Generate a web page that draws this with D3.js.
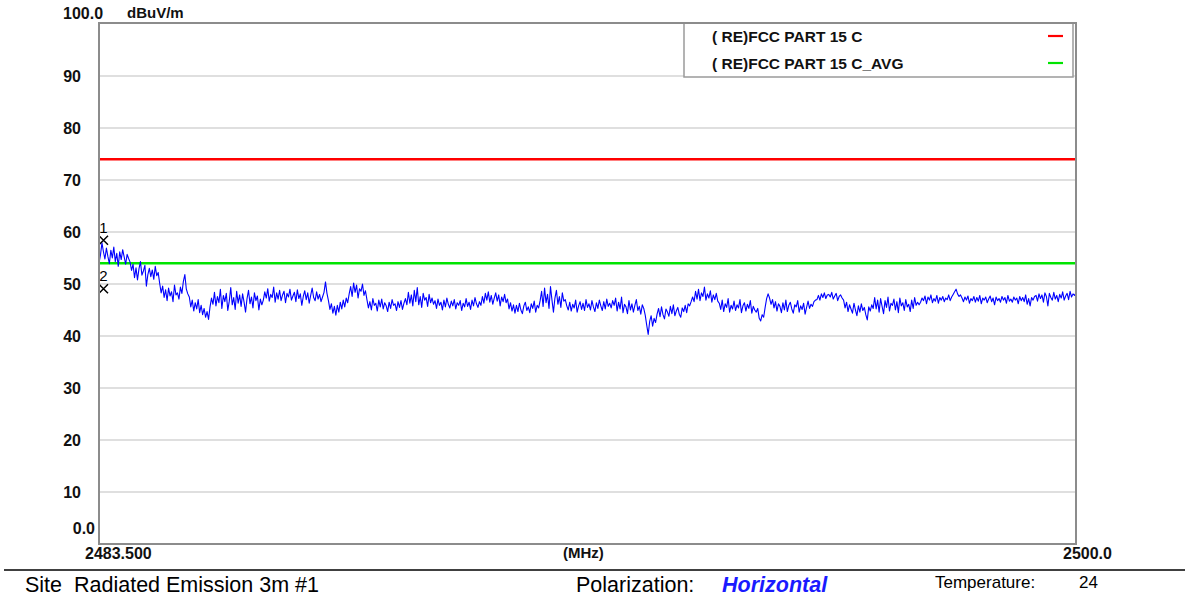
<!DOCTYPE html>
<html>
<head>
<meta charset="utf-8">
<script src="https://cdn.jsdelivr.net/npm/d3@7"></script>
<style>
  html, body { margin: 0; padding: 0; background: #fff; }
  svg { display: block; }
  .bold { font-family: "Liberation Sans", Arial, sans-serif; font-weight: bold; }
  .reg { font-family: "Liberation Sans", Arial, sans-serif; }
</style>
</head>
<body>
<svg id="chart" width="1185" height="597"></svg>
<script>
// Sweep range (MHz) and level range (dBuV/m)
const freqRange = [2483.5, 2500.0];
const levelRange = [0, 100];
const yTicks = [10, 20, 30, 40, 50, 60, 70, 80, 90];

// Limit lines
const limits = [
  { name: "( RE)FCC PART 15 C", level: 74, color: "#ff0000" },
  { name: "( RE)FCC PART 15 C_AVG", level: 54, color: "#00e400" }
];

// Measured trace, equally spaced points across the sweep (dBuV/m)
const traceLevels = [
  54.0, 55.6, 57.9, 56.2, 54.8, 56.9, 55.3, 53.9, 56.5, 55.0, 57.1, 54.3, 55.9, 53.4, 56.2, 54.7, 56.6, 55.2, 53.8, 55.7, 54.9,
  54.2, 52.6, 53.8, 51.2, 53.1, 50.8, 52.9, 54.3, 51.7, 52.5, 53.6, 49.6, 51.8, 53.0, 51.4, 52.7, 50.9, 53.4, 51.6, 52.2,
  50.1, 48.3, 49.6, 47.4, 48.9, 46.8, 49.2, 47.7, 48.5, 46.6, 49.8, 47.9, 48.3, 47.1, 49.4, 48.2, 50.5, 51.8, 49.0, 48.1,
  47.5, 45.6, 46.9, 44.8, 46.4, 45.2, 47.0, 44.5, 45.9, 44.1, 45.3, 43.6, 44.7, 43.2,
  45.6, 47.3, 46.1, 48.4, 45.8, 47.6, 46.4, 49.0, 45.3, 47.8, 46.6, 48.2, 44.9, 46.7, 49.3, 46.0, 47.4, 45.1,
  48.6, 46.3, 47.9, 45.7, 48.1, 46.5, 44.6, 47.2, 48.8, 46.2, 47.5, 45.4, 48.3, 46.8, 47.7, 45.0, 47.1, 46.0,
  46.9, 48.5, 47.3, 49.1, 46.7, 48.0, 47.4, 49.4, 46.5, 48.3, 47.1, 48.8, 46.8, 47.9, 48.6, 46.4, 48.2, 47.5, 49.0, 46.9, 47.7, 48.4,
  46.6, 48.9, 47.2, 48.1, 45.9, 47.6, 48.7, 47.0, 48.3, 46.3, 47.8, 49.2, 47.4, 46.8, 48.5, 47.1, 48.0, 46.6, 47.5, 48.4, 50.4, 48.2,
  46.8, 45.1, 46.2, 44.4, 45.7, 44.0, 45.9, 44.6, 46.5, 45.2, 46.9, 45.6, 47.3, 46.4,
  48.1, 49.5, 47.6, 50.2, 48.4, 49.8, 47.3, 49.1, 48.6, 50.0, 47.8, 48.7,
  47.0, 45.4, 46.6, 45.0, 47.2, 45.9, 46.3, 44.8, 46.9, 45.6, 47.1, 45.2, 46.4, 45.8,
  44.7, 46.5, 45.3, 47.0, 45.9, 46.2, 44.9, 46.6, 45.5, 46.8, 45.1, 46.3, 47.2, 46.0,
  48.4, 46.3, 47.9, 45.8, 48.8, 46.6, 49.3, 46.0, 47.6, 45.5, 48.2, 46.9, 47.4, 45.7, 48.0, 46.4, 47.3, 46.1,
  46.8, 45.3, 47.1, 45.9, 46.5, 45.0, 46.9, 45.6, 47.3, 46.1, 45.4, 46.7, 45.8, 47.0, 45.2, 46.4,
  45.9, 46.8, 44.9, 46.3, 45.6, 47.2, 45.7, 46.5, 45.1, 46.9, 45.8, 47.4, 46.2, 45.5, 46.6, 45.9,
  47.6, 46.3, 48.2, 46.9, 48.5, 46.5, 47.8, 46.1, 47.3, 48.3, 46.7, 47.9, 45.8, 47.5, 46.6, 48.0, 46.4, 47.1,
  45.2, 46.4, 44.8, 46.0, 44.4, 45.9, 44.7, 46.3, 45.0, 44.3, 45.8, 46.5, 44.9, 45.6, 44.5, 46.2, 45.3, 46.7, 44.6, 45.9, 45.4, 46.8,
  48.6, 45.7, 49.2, 46.4, 48.0, 45.3, 49.5, 46.9, 44.6, 47.3, 48.8, 46.1, 47.6, 45.5, 48.3, 46.7, 47.0, 45.8,
  45.0, 46.5, 44.8, 46.1, 45.4, 46.9, 44.6, 45.8, 46.6, 45.1, 46.3, 44.9, 47.0, 45.5, 46.2, 45.0,
  46.8, 45.6, 44.7, 46.4, 45.3, 46.9, 45.8, 44.9, 46.6, 45.2, 47.1, 45.7, 46.3, 45.4, 46.8, 45.9,
  47.3, 44.8, 46.5, 45.2, 47.5, 44.5, 46.1, 45.6, 44.3, 46.8, 45.0, 46.2, 44.6, 45.9, 47.0, 44.9, 45.7, 44.2, 46.0, 45.3,
  44.0, 42.1, 40.3, 42.8, 43.9, 41.9, 43.4, 42.6, 44.2,
  45.3, 43.7, 45.6, 44.1, 43.3, 45.2, 44.6, 43.8, 45.7, 44.3, 46.0, 43.9, 44.8, 45.5, 44.2, 43.6, 45.4, 44.7, 45.9, 44.5, 46.2, 45.8, 46.6,
  47.5, 46.6, 48.6, 47.1, 49.0, 46.8, 48.3, 47.6, 49.4, 46.9, 48.1, 47.3, 48.7, 46.5, 47.9, 47.0, 48.2, 46.7,
  46.3, 45.1, 46.9, 44.7, 46.2, 45.5, 47.2, 44.6, 45.9, 45.2, 46.7, 44.9, 46.0, 45.4,
  47.0, 44.5, 45.8, 46.4, 44.8, 46.1, 45.3, 46.8, 44.4, 45.7, 45.0, 44.6, 45.3,
  43.4, 42.9, 44.1, 43.6, 45.5, 47.2, 48.1,
  47.3, 46.1, 47.0, 45.4, 46.6, 44.8, 46.2, 45.7, 44.5, 46.4, 45.0, 46.9, 44.7, 45.9, 46.5, 45.2,
  44.4, 46.0, 45.6, 46.8, 44.6, 45.8, 45.1, 46.3, 44.2, 45.5, 46.7, 45.3, 46.1, 45.7, 46.6, 46.9,
  47.0, 47.8, 46.9, 48.1, 47.4, 48.3, 47.2, 47.9, 48.0, 47.5, 48.4, 47.1, 47.7, 48.2, 46.8, 47.6, 47.9, 47.3,
  46.9, 45.4, 46.5, 44.7, 46.0, 45.2, 44.4, 46.3, 45.0, 43.9, 45.8, 44.6, 46.2, 44.9, 45.5, 44.1, 43.1, 45.6, 44.8, 46.0, 45.3,
  47.4, 45.2, 46.9, 44.6, 47.2, 45.7, 44.3, 46.8, 45.5, 47.5, 44.8, 46.3, 45.9, 47.1, 45.0, 46.6,
  44.5, 47.3, 45.8, 46.4, 44.9, 47.0, 45.6, 46.1, 44.7, 46.9, 45.3, 47.4, 45.9, 46.5, 46.0,
  46.5, 47.3, 46.8, 47.7, 46.2, 47.5, 46.9, 47.9, 46.4, 47.2, 46.7, 47.8, 46.3, 47.4, 46.9, 47.6, 46.6, 47.3, 47.0, 47.9, 46.8, 47.5, 48.0,
  48.5, 49.0, 48.1, 47.6, 47.9,
  47.3, 46.6, 47.5, 46.9, 47.7, 46.3, 47.2, 46.8, 47.6, 46.5, 47.4, 46.7, 47.8, 46.2, 47.3, 46.9, 47.5, 46.4, 47.1, 47.7, 46.6, 47.3, 46.0, 47.5, 46.8,
  47.2, 46.5, 47.6, 46.9, 47.4, 46.3, 47.8, 46.7, 47.1, 46.5, 47.5, 46.9, 47.3, 46.2, 47.6, 46.8, 47.4, 46.6, 47.9, 46.1, 47.2, 45.8, 47.4, 46.9, 47.6,
  47.8, 46.7, 48.1, 47.2, 47.9, 46.5, 48.3, 47.6, 45.8, 48.2, 47.4, 46.9, 48.4, 47.1,
  47.8, 46.6, 48.0, 47.3, 48.5, 46.9, 47.7, 48.2, 47.0, 48.6, 47.5, 48.1, 47.8, 48.3
];

// Peak markers
const markers = [
  { id: "1", freq: 2483.576, level: 58.4 },
  { id: "2", freq: 2483.576, level: 49.1 }
];

// Footer information
const siteText = "Site  Radiated Emission 3m #1";
const polarization = "Horizontal";
const temperature = "24";

const svg = d3.select("#chart");
const plot = { left: 99, right: 1076, top: 23, bottom: 544 };

const x = d3.scaleLinear().domain(freqRange).range([plot.left, plot.right]);
const y = d3.scaleLinear().domain(levelRange).range([plot.bottom, plot.top + 1]);
const idx = d3.scaleLinear().domain([0, traceLevels.length - 1]).range(freqRange);

svg.append("rect").attr("width", 1185).attr("height", 597).attr("fill", "#fff");

// Grid lines
svg.append("g")
  .selectAll("line")
  .data(yTicks)
  .join("line")
  .attr("x1", plot.left).attr("x2", plot.right)
  .attr("y1", d => y(d)).attr("y2", d => y(d))
  .attr("stroke", "#d4d4d4")
  .attr("stroke-width", 1.6);

// Y tick labels
svg.append("g")
  .selectAll("text")
  .data(yTicks)
  .join("text")
  .attr("class", "bold")
  .attr("x", 81)
  .attr("y", d => y(d))
  .attr("dy", "0.36em")
  .attr("text-anchor", "end")
  .attr("font-size", 16)
  .attr("fill", "#111")
  .text(d => d);

svg.append("text").attr("class", "bold")
  .attr("x", 95).attr("y", 528).attr("dy", "0.36em")
  .attr("text-anchor", "end").attr("font-size", 16).attr("fill", "#111")
  .text(levelRange[0].toFixed(1));

svg.append("text").attr("class", "bold")
  .attr("x", 63).attr("y", 13).attr("dy", "0.36em")
  .attr("font-size", 16).attr("fill", "#111")
  .text(levelRange[1].toFixed(1));

svg.append("text").attr("class", "bold")
  .attr("x", 127).attr("y", 13).attr("dy", "0.36em")
  .attr("font-size", 15).attr("fill", "#111")
  .text("dBuV/m");

// X axis labels
const xLab = svg.append("g").attr("class", "bold").attr("font-size", 16).attr("fill", "#111");
xLab.append("text").attr("x", x(freqRange[0]) - 14).attr("y", 553).attr("dy", "0.36em")
  .text(freqRange[0].toFixed(3));
xLab.append("text").attr("x", 563).attr("y", 553).attr("dy", "0.36em")
  .attr("font-size", 15).text("(MHz)");
xLab.append("text").attr("x", x(freqRange[1]) - 13).attr("y", 553).attr("dy", "0.36em")
  .text(freqRange[1].toFixed(1));

// Limit lines
svg.append("g")
  .selectAll("line")
  .data(limits)
  .join("line")
  .attr("x1", plot.left).attr("x2", plot.right)
  .attr("y1", d => y(d.level)).attr("y2", d => y(d.level))
  .attr("stroke", d => d.color)
  .attr("stroke-width", 2.6);

// Trace
const line = d3.line()
  .x((d, i) => x(idx(i)))
  .y(d => y(d));
svg.append("path")
  .datum(traceLevels)
  .attr("d", line)
  .attr("fill", "none")
  .attr("stroke", "#0000ff")
  .attr("stroke-width", 1.1)
  .attr("stroke-linejoin", "round");

// Markers
const mk = svg.append("g").attr("class", "reg").attr("fill", "#000");
markers.forEach(m => {
  const cx = x(m.freq), cy = y(m.level);
  mk.append("path")
    .attr("d", `M${cx - 4.5},${cy - 4.5}L${cx + 4.5},${cy + 4.5}M${cx - 4.5},${cy + 4.5}L${cx + 4.5},${cy - 4.5}`)
    .attr("stroke", "#000").attr("stroke-width", 1.5);
  mk.append("text").attr("x", cx).attr("y", cy - 13).attr("dy", "0.36em")
    .attr("text-anchor", "middle").attr("font-size", 15).text(m.id);
});

// Legend
const legend = svg.append("g");
legend.append("rect")
  .attr("x", 684).attr("y", plot.top).attr("width", plot.right - 3 - 684).attr("height", 54)
  .attr("fill", "#fff").attr("stroke", "#9a9a9a").attr("stroke-width", 1.5);
limits.forEach((d, i) => {
  const ly = 36 + i * 27;
  legend.append("text").attr("class", "bold")
    .attr("x", 712).attr("y", ly).attr("dy", "0.36em")
    .attr("font-size", 15.5).attr("fill", "#111").text(d.name);
  legend.append("line")
    .attr("x1", 1048).attr("x2", 1063).attr("y1", ly).attr("y2", ly)
    .attr("stroke", d.color).attr("stroke-width", 2.2);
});

// Plot frame
svg.append("rect")
  .attr("x", plot.left).attr("y", plot.top)
  .attr("width", plot.right - plot.left).attr("height", plot.bottom - plot.top)
  .attr("fill", "none").attr("stroke", "#8c8c8c").attr("stroke-width", 2);

// Footer
svg.append("line").attr("x1", 4).attr("x2", 1185).attr("y1", 570).attr("y2", 570)
  .attr("stroke", "#000").attr("stroke-width", 1.6);
const foot = svg.append("g").attr("class", "reg");
foot.append("text").attr("x", 25).attr("y", 584).attr("dy", "0.36em")
  .attr("font-size", 21.5).attr("fill", "#000").style("white-space", "pre").text(siteText);
foot.append("text").attr("x", 576).attr("y", 584).attr("dy", "0.36em")
  .attr("font-size", 21.5).attr("fill", "#000").text("Polarization:");
foot.append("text").attr("x", 722).attr("y", 584).attr("dy", "0.36em")
  .attr("font-size", 21.5).attr("font-weight", "bold").attr("font-style", "italic")
  .attr("fill", "#1a1aff").text(polarization);
foot.append("text").attr("x", 935).attr("y", 582).attr("dy", "0.36em")
  .attr("font-size", 17).attr("fill", "#000").text("Temperature:");
foot.append("text").attr("x", 1079).attr("y", 582).attr("dy", "0.36em")
  .attr("font-size", 17).attr("fill", "#000").text(temperature);
</script>
</body>
</html>
